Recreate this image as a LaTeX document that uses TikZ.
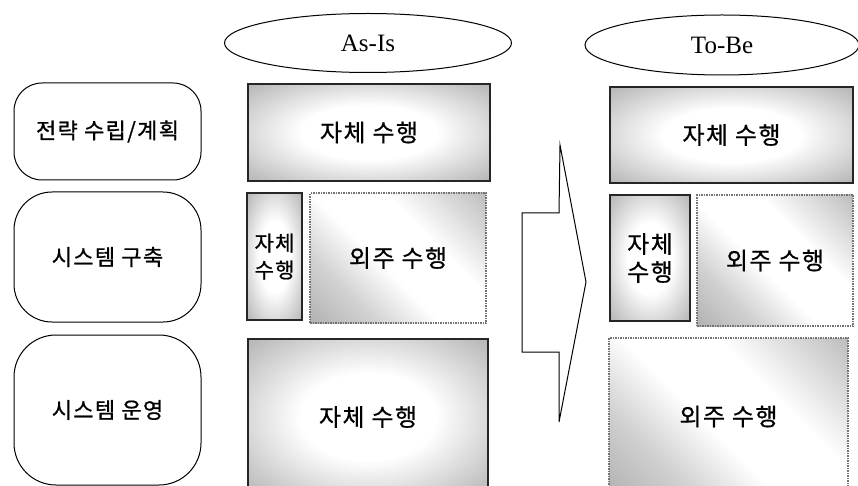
\documentclass[tikz,border=0pt]{standalone}
\usepackage{fontspec}
\setmainfont{Liberation Serif}
\newfontfamily\kr[LetterSpace=6,FakeBold=0.8]{Noto Sans CJK KR}
\usetikzlibrary{shapes.geometric}
\pgfdeclareradialshading{jache}{\pgfpoint{0bp}{0bp}}{color(0bp)=(white); color(14bp)=(white); color(36bp)=(black!30); color(50bp)=(black!42)}
\pgfdeclarehorizontalshading{oeju}{100bp}{color(0bp)=(black!42); color(30bp)=(black!18); color(45bp)=(white); color(62bp)=(white); color(100bp)=(black!42)}
\begin{document}
\begin{tikzpicture}[x=1pt,y=-1pt,
  side/.style={draw=black, line width=1pt, rounded corners=#1, fill=white,
    font=\kr\fontsize{22}{26}\selectfont, inner sep=0pt},
  oval/.style={ellipse, draw=black, line width=1pt, inner sep=0pt,
    font=\fontsize{25}{28}\selectfont},
  jachebox/.style={shade, shading=jache, draw=black!85, line width=2.5pt,
    inner sep=0pt, align=center, font=\kr\fontsize{24}{28}\selectfont},
  oejubox/.style={shade, shading=oeju, shading angle=45, draw=black!55,
    densely dotted, line width=1.5pt, inner sep=0pt, align=center,
    font=\kr\fontsize{24}{28}\selectfont},
  arrowshape/.style={draw=black, line width=1pt, line join=miter}
]
\useasboundingbox (0,0) rectangle (858,486);
\clip (0,0) rectangle (858,486);
\fill[white] (0,0) rectangle (858,486);

% headers
\node[oval, minimum width=287pt, minimum height=59pt] (asis) at (368,43) {As-Is};
\node[oval, minimum width=274pt, minimum height=60pt] (tobe) at (722,45) {To-Be};

% left categories
\node[side=28pt, minimum width=187pt, minimum height=97pt] (s1) at (107.5,131.5) {전략 수립/계획};
\node[side=38pt, minimum width=187pt, minimum height=130pt] (s2) at (107.5,257) {시스템 구축};
\node[side=42pt, minimum width=187pt, minimum height=150pt] (s3) at (107.5,410) {시스템 운영};

% As-Is
\node[jachebox, minimum width=242pt, minimum height=97pt] (a1) at (369,132.5) {자체 수행};
\node[jachebox, minimum width=55pt, minimum height=127pt, font=\kr\fontsize{21}{27}\selectfont] (a2) at (274.5,256.5) {자체\\수행};
\node[oejubox, minimum width=176pt, minimum height=130pt] (a3) at (398,258) {외주 수행};
\node[jachebox, minimum width=240pt, minimum height=156pt] (a4) at (368,417) {자체 수행};

% To-Be
\node[jachebox, minimum width=243pt, minimum height=96pt] (b1) at (731.5,135) {자체 수행};
\node[jachebox, minimum width=80pt, minimum height=126pt] (b2) at (650,258) {자체\\수행};
\node[oejubox, minimum width=156pt, minimum height=131pt] (b3) at (775,260.5) {외주 수행};
\node[oejubox, minimum width=239pt, minimum height=157pt] (b4) at (728.5,416.5) {외주 수행};

% big arrow
\draw[arrowshape] (522,213) -- (559,213) -- (560,145) -- (586,282) -- (559,422)
  -- (559,352) -- (522,352) -- cycle;
\end{tikzpicture}
\end{document}
